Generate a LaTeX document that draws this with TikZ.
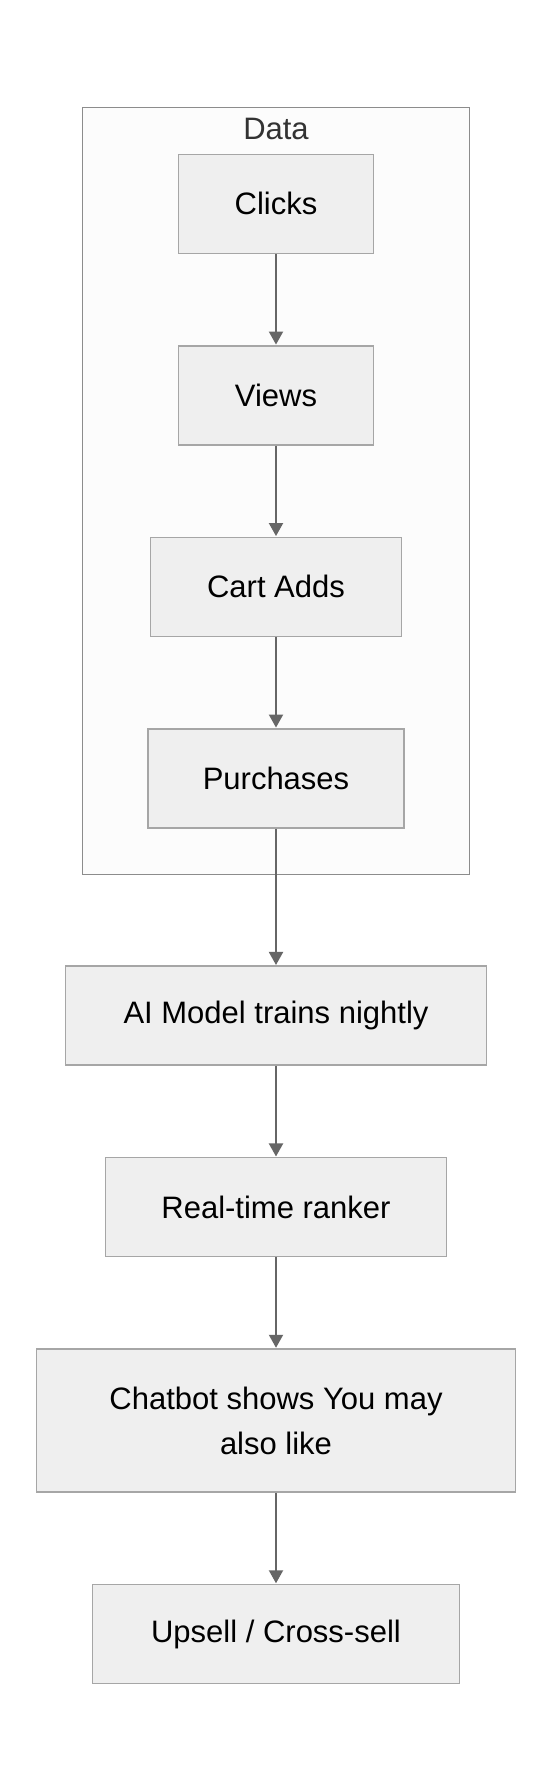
\documentclass[tikz,border=0pt]{standalone}
\usepackage{fontspec}
\setmainfont{Liberation Sans}
\usetikzlibrary{shapes,arrows.meta,fit,backgrounds}
\definecolor{boxfill}{HTML}{EFEFEF}
\definecolor{boxline}{HTML}{A6A6A6}
\definecolor{groupfill}{HTML}{FCFCFC}
\definecolor{groupline}{HTML}{8C8C8C}
\definecolor{arrowgray}{HTML}{666666}

\begin{document}
\begin{tikzpicture}
\tikzset{
block/.style={rectangle, draw=boxline, fill=boxfill, line width=1.5pt, text=black,
font=\fontsize{31pt}{45pt}\selectfont, minimum height=99pt, text centered, node distance=191.5pt},
group/.style={rectangle, draw=groupline, fill=groupfill, line width=1.5pt, inner xsep=64.7pt, inner ysep=46pt},
grouplabel/.style={text=black!80, font=\fontsize{31pt}{45pt}\selectfont, inner sep=0pt},
myarrow/.style={-{Triangle[length=13pt,width=14pt]}, draw=arrowgray, line width=2pt, shorten >=0.5pt},
}
\useasboundingbox (0,0) rectangle (552pt,-1792pt);

\node [block, minimum width=195pt] (clicks) at (276pt,-203.8pt) {Clicks};
\node [block, minimum width=195pt, below of=clicks] (views) {Views};
\node [block, minimum width=250.7pt, below of=views] (cartadds) {Cart Adds};
\node [block, minimum width=256pt, below of=cartadds] (purchases) {Purchases};

\begin{scope}[on background layer]
\fill[white] (0,0) rectangle (552pt,-1792pt);
\node [group, fit=(clicks)(purchases)] (data) {};
\end{scope}
\node [grouplabel, anchor=north] (datalabel) at ([yshift=-11pt]data.north) {Data};

\node [block, minimum width=421pt, below of=purchases, node distance=237.4pt] (aimodel) {AI Model trains nightly};
\node [block, minimum width=341pt, below of=aimodel] (ranker) {Real-time ranker};
\node [block, minimum width=479pt, minimum height=143pt, align=center, below of=ranker, node distance=213.3pt] (chatbot) {Chatbot shows You may\\also like};
\node [block, minimum width=367pt, below of=chatbot, node distance=213.5pt] (upsell) {Upsell / Cross-sell};

\draw[myarrow] (clicks) -- (views);
\draw[myarrow] (views) -- (cartadds);
\draw[myarrow] (cartadds) -- (purchases);
\draw[myarrow] (purchases) -- (aimodel);
\draw[myarrow] (aimodel) -- (ranker);
\draw[myarrow] (ranker) -- (chatbot);
\draw[myarrow] (chatbot) -- (upsell);
\end{tikzpicture}
\end{document}
